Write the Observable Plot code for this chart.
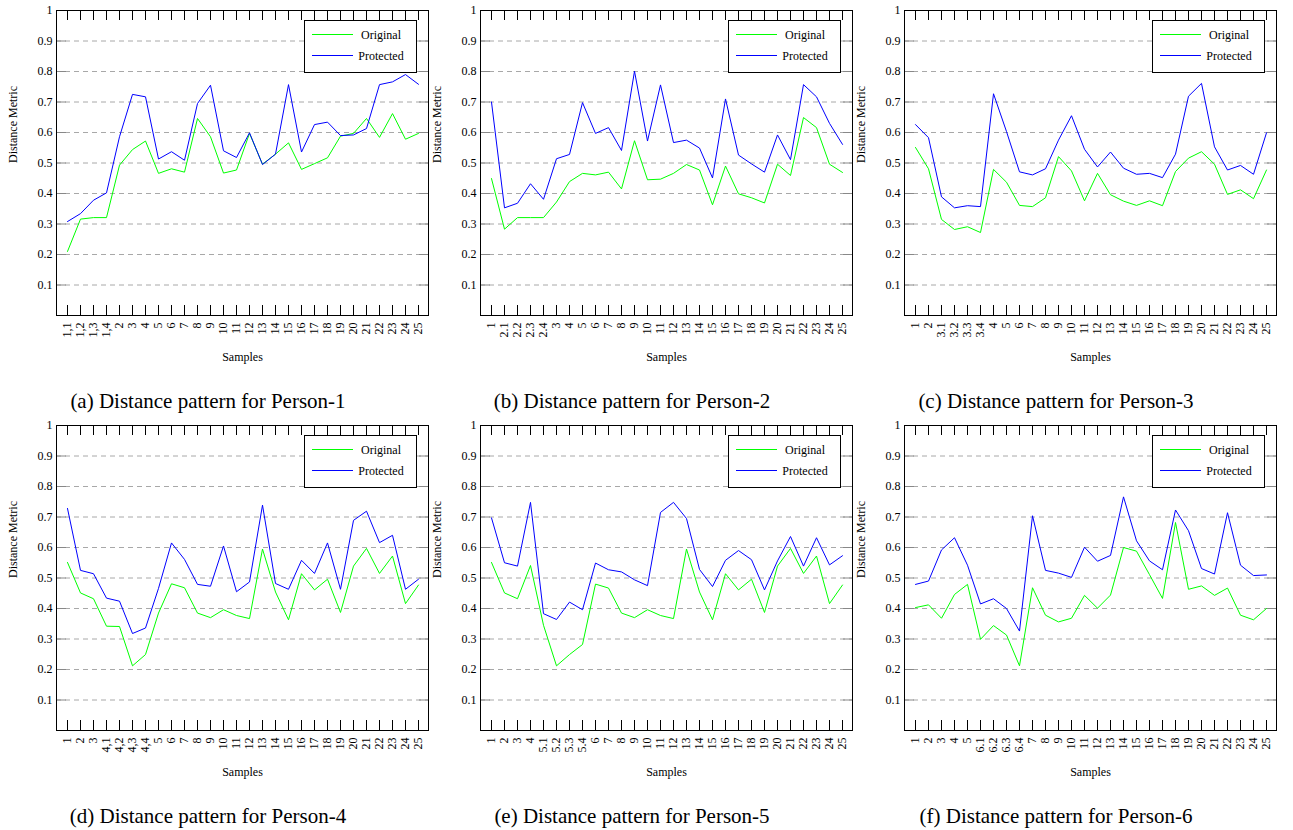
<!DOCTYPE html>
<html>
<head>
<meta charset="utf-8">
<script src="https://cdn.jsdelivr.net/npm/d3@7"></script>
<script src="https://cdn.jsdelivr.net/npm/@observablehq/plot@0.6"></script>
<style>
  html, body { margin: 0; padding: 0; background: #fff; }
  #page { position: relative; width: 1293px; height: 830px; font-family: "Liberation Serif", "Times New Roman", serif; }
  .panel { position: absolute; width: 430px; height: 415px; }
  .panel svg.chart { position: absolute; left: 0; top: 0; font-family: "Liberation Serif", "Times New Roman", serif !important; }
  .panel svg text { font-family: "Liberation Serif", "Times New Roman", serif !important; }
  .legend { position: absolute; left: 304px; top: 20px; }
  .caption { position: absolute; left: 0; top: 389px; width: 416px; text-align: center; font-size: 21px; line-height: 24px; color: #000; }
</style>
</head>
<body>
<div id="page"></div>
<script>
// Sample labels along the x axis of each panel
const labels1 = ["1,1","1,2","1,3","1,4","2","3","4","5","6","7","8","9","10","11","12","13","14","15","16","17","18","19","20","21","22","23","24","25"];
const labels2 = ["1","2.1","2.2","2.3","2.4","3","4","5","6","7","8","9","10","11","12","13","14","15","16","17","18","19","20","21","22","23","24","25"];
const labels3 = ["1","2","3.1","3.2","3.3","3.4","4","5","6","7","8","9","10","11","12","13","14","15","16","17","18","19","20","21","22","23","24","25"];
const labels4 = ["1","2","3","4,1","4,2","4,3","4,4","5","6","7","8","9","10","11","12","13","14","15","16","17","18","19","20","21","22","23","24","25"];
const labels5 = ["1","2","3","4","5.1","5.2","5.3","5.4","6","7","8","9","10","11","12","13","14","15","16","17","18","19","20","21","22","23","24","25"];
const labels6 = ["1","2","3","4","5","6.1","6.2","6.3","6.4","7","8","9","10","11","12","13","14","15","16","17","18","19","20","21","22","23","24","25"];

// Distance metric per sample: original vs protected
const original1  = [0.21,0.316,0.321,0.321,0.493,0.544,0.572,0.466,0.481,0.470,0.646,0.586,0.467,0.477,0.597,0.496,0.529,0.566,0.479,0.498,0.517,0.588,0.597,0.646,0.584,0.662,0.578,0.597];
const protected1 = [0.308,0.334,0.378,0.402,0.586,0.725,0.717,0.513,0.537,0.509,0.695,0.755,0.540,0.518,0.599,0.495,0.529,0.757,0.536,0.626,0.634,0.590,0.592,0.613,0.757,0.766,0.790,0.758];

const original2  = [0.449,0.283,0.321,0.321,0.321,0.372,0.439,0.466,0.461,0.470,0.415,0.573,0.445,0.447,0.466,0.495,0.477,0.363,0.490,0.399,0.386,0.369,0.496,0.459,0.649,0.616,0.496,0.469];
const protected2 = [0.70,0.353,0.368,0.432,0.381,0.514,0.528,0.698,0.597,0.616,0.541,0.801,0.572,0.756,0.567,0.575,0.549,0.451,0.710,0.526,0.497,0.470,0.592,0.511,0.757,0.717,0.630,0.561];

const original3  = [0.551,0.481,0.315,0.282,0.291,0.272,0.479,0.437,0.361,0.357,0.386,0.521,0.474,0.376,0.466,0.396,0.375,0.361,0.376,0.360,0.472,0.516,0.537,0.496,0.397,0.412,0.383,0.477];
const protected3 = [0.626,0.583,0.389,0.353,0.360,0.357,0.727,0.603,0.471,0.461,0.481,0.575,0.655,0.545,0.487,0.536,0.483,0.463,0.466,0.452,0.529,0.719,0.761,0.553,0.477,0.492,0.463,0.599];

const original4  = [0.551,0.451,0.432,0.342,0.341,0.212,0.249,0.385,0.481,0.468,0.385,0.370,0.396,0.377,0.367,0.595,0.454,0.363,0.514,0.461,0.496,0.387,0.539,0.597,0.515,0.572,0.416,0.477];
const protected4 = [0.728,0.525,0.514,0.434,0.424,0.318,0.336,0.466,0.615,0.561,0.479,0.473,0.605,0.455,0.487,0.739,0.482,0.463,0.558,0.515,0.615,0.463,0.689,0.719,0.616,0.640,0.463,0.496];

const original5  = [0.551,0.451,0.432,0.541,0.345,0.212,0.249,0.282,0.480,0.467,0.385,0.370,0.396,0.377,0.367,0.595,0.454,0.363,0.514,0.461,0.496,0.387,0.539,0.597,0.515,0.572,0.416,0.477];
const protected5 = [0.697,0.550,0.539,0.748,0.383,0.364,0.421,0.396,0.549,0.527,0.520,0.494,0.475,0.715,0.748,0.695,0.528,0.472,0.558,0.590,0.560,0.461,0.556,0.636,0.539,0.632,0.543,0.573];

const original6  = [0.403,0.412,0.368,0.446,0.479,0.299,0.344,0.313,0.212,0.468,0.378,0.356,0.368,0.443,0.401,0.444,0.600,0.588,0.511,0.433,0.682,0.463,0.474,0.443,0.467,0.378,0.363,0.400];
const protected6 = [0.479,0.490,0.592,0.632,0.542,0.415,0.432,0.400,0.326,0.704,0.525,0.516,0.502,0.601,0.555,0.574,0.766,0.622,0.556,0.527,0.723,0.655,0.531,0.513,0.714,0.542,0.508,0.510];

const seriesNames = ["Original", "Protected"];
const seriesColors = ["#00ff00", "#0000ff"];
const yTickValues = [0.1,0.2,0.3,0.4,0.5,0.6,0.7,0.8,0.9,1];
const gridValues = [0.1,0.2,0.3,0.4,0.5,0.6,0.7,0.8,0.9];
const captions = [
  "(a) Distance pattern for Person-1",
  "(b) Distance pattern for Person-2",
  "(c) Distance pattern for Person-3",
  "(d) Distance pattern for Person-4",
  "(e) Distance pattern for Person-5",
  "(f) Distance pattern for Person-6"
];

const panels = [
  {labels: labels1, orig: original1, prot: protected1, left: 0,   top: 0},
  {labels: labels2, orig: original2, prot: protected2, left: 424, top: 0},
  {labels: labels3, orig: original3, prot: protected3, left: 848, top: 0},
  {labels: labels4, orig: original4, prot: protected4, left: 0,   top: 415},
  {labels: labels5, orig: original5, prot: protected5, left: 424, top: 415},
  {labels: labels6, orig: original6, prot: protected6, left: 848, top: 415}
];

const W = 430, H = 370, mL = 56, mR = 2, mT = 10, mB = 55;
const innerH = H - mT - mB;
const tickLen = 10 / innerH; // x tick length in y-units
const serif = '"Liberation Serif", "Times New Roman", serif';

function chart(p) {
  const rows = [];
  p.labels.forEach((s, i) => {
    rows.push({sample: s, value: p.orig[i], series: seriesNames[0]});
  });
  p.labels.forEach((s, i) => {
    rows.push({sample: s, value: p.prot[i], series: seriesNames[1]});
  });
  const fmt = d => String(+d.toFixed(1));
  const svg = Plot.plot({
    width: W, height: H,
    marginLeft: mL, marginRight: mR, marginTop: mT, marginBottom: mB,
    style: {fontFamily: serif, fontSize: "12px", background: "transparent", color: "#000"},
    x: {type: "point", domain: p.labels, padding: 0},
    y: {domain: [0, 1]},
    color: {domain: seriesNames, range: seriesColors},
    marks: [
      Plot.ruleY(gridValues, {stroke: "#a8a8a8", strokeWidth: 1, strokeDasharray: "5,4"}),
      // inward y ticks on both sides
      Plot.axisY({ticks: gridValues, tickSize: 10, dx: 10, tickFormat: () => "", label: null, stroke: "#888"}),
      Plot.axisY({anchor: "right", ticks: gridValues, tickSize: 10, dx: -10, tickFormat: () => "", label: null, stroke: "#888"}),
      // y tick labels
      Plot.axisY({ticks: yTickValues, tickSize: 0, tickPadding: 4, tickFormat: fmt, label: null, fontFamily: serif}),
      // inward x ticks at bottom and top
      Plot.ruleX(p.labels, {y1: 0, y2: tickLen, stroke: "#000"}),
      Plot.ruleX(p.labels, {y1: 1 - tickLen, y2: 1, stroke: "#000"}),
      Plot.axisX({tickRotate: -90, tickSize: 0, tickPadding: 7, label: null, fontFamily: serif}),
      Plot.line(rows, {x: "sample", y: "value", stroke: "series", z: "series", strokeWidth: 1}),
      Plot.frame({stroke: "#000", strokeWidth: 1}),
      Plot.text(["Distance Metric"], {frameAnchor: "left", dx: -43, rotate: -90, fontSize: 12, fontFamily: serif}),
      Plot.text(["Samples"], {frameAnchor: "bottom", dy: 45, fontSize: 12, fontFamily: serif})
    ]
  });
  svg.classList.add("chart");
  return svg;
}

// Boxed legend: a short line sample next to each series name
function legend() {
  const w = 113, h = 53;
  const svg = d3.create("svg").attr("class", "legend").attr("width", w).attr("height", h);
  svg.append("rect").attr("x", 0.5).attr("y", 0.5).attr("width", w - 1).attr("height", h - 1)
    .attr("fill", "#fff").attr("stroke", "#000").attr("stroke-width", 1);
  seriesNames.forEach((name, j) => {
    const y = 14.5 + j * 21;
    svg.append("line").attr("x1", 8).attr("x2", 49).attr("y1", y).attr("y2", y)
      .attr("stroke", seriesColors[j]).attr("stroke-width", 1);
    svg.append("text").attr("x", 77).attr("y", y).attr("dy", "0.35em")
      .attr("text-anchor", "middle").attr("font-size", 12)
      .attr("font-family", serif).attr("fill", "#000").text(name);
  });
  return svg.node();
}

const page = document.getElementById("page");
panels.forEach((p, k) => {
  const div = document.createElement("div");
  div.className = "panel";
  div.style.left = p.left + "px";
  div.style.top = p.top + "px";
  div.appendChild(chart(p));
  div.appendChild(legend());

  const cap = document.createElement("div");
  cap.className = "caption";
  cap.textContent = captions[k];
  div.appendChild(cap);
  page.appendChild(div);
});
</script>
</body>
</html>
